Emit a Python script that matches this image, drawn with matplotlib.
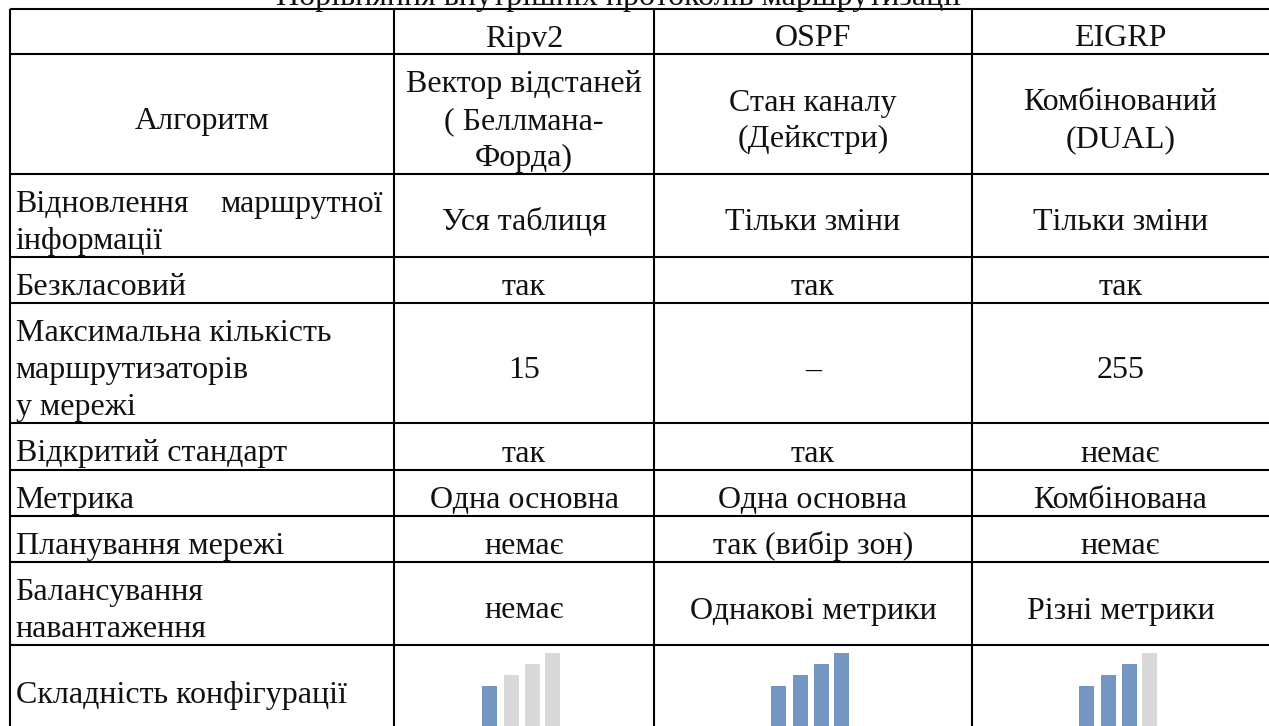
import matplotlib

matplotlib.use("Agg")
import matplotlib.pyplot as plt

WIDTH, HEIGHT = 1269, 726
FONT = "Liberation Serif"
FONT_SIZE = 23
LINE_STEP = 37
TEXT_COLOR = "#111111"
ON_COLOR = "#7596C2"
OFF_COLOR = "#D9D9D9"

title = "Порівняння внутрішніх протоколів маршрутизації"
protocols = ["Ripv2", "OSPF", "EIGRP"]
row_labels = [
    "",
    "Алгоритм",
    "Відновлення маршрутної\nінформації",
    "Безкласовий",
    "Максимальна кількість\nмаршрутизаторів\nу мережі",
    "Відкритий стандарт",
    "Метрика",
    "Планування мережі",
    "Балансування\nнавантаження",
    "Складність конфігурації",
]
ripv2 = ["Вектор відстаней\n( Беллмана-\nФорда)", "Уся таблиця", "так", "15", "так",
         "Одна основна", "немає", "немає"]
ospf = ["Стан каналу\n(Дейкстри)", "Тільки зміни", "так", "–", "так",
        "Одна основна", "так (вибір зон)", "Однакові метрики"]
eigrp = ["Комбінований\n(DUAL)", "Тільки зміни", "так", "255", "немає",
         "Комбінована", "немає", "Різні метрики"]

# complexity icon: four bars, the first few lit
icon_heights = [40, 51, 62, 73]
icon_lit = [1, 4, 3]

row_lines = [9, 54, 174, 257, 303, 423, 470, 516, 562, 645, 726]
col_lines = [10, 394, 654, 972, 1269]
icon_lefts = [
    [482, 504, 525, 545],
    [771, 793, 814, 834],
    [1079, 1101, 1122, 1142],
]

fig = plt.figure(figsize=(WIDTH / 100, HEIGHT / 100), dpi=100)
ax = fig.add_axes([0, 0, 1, 1])
ax.set_xlim(0, WIDTH)
ax.set_ylim(HEIGHT, 0)
ax.axis("off")


def put(x, y, text, ha="center"):
    ax.text(x, y, text, family=FONT, fontsize=FONT_SIZE, color=TEXT_COLOR, ha=ha, va="baseline")


def put_lines(x, row, text, ha="center", shift=15):
    # baselines sit a fixed step apart, the block centred on the row
    yc = (row_lines[row] + row_lines[row + 1]) / 2
    lines = text.split("\n")
    for i, line in enumerate(lines):
        put(x, yc + shift + (i - (len(lines) - 1) / 2) * LINE_STEP, line, ha=ha)


for y in row_lines[:-1]:
    ax.plot([col_lines[0], WIDTH], [y, y], color="black", lw=1.5, solid_capstyle="butt")
for x in col_lines[:-1]:
    ax.plot([x, x], [row_lines[0], HEIGHT], color="black", lw=1.5, solid_capstyle="butt")

put(619, 5, title)

centers = [(a + b) / 2 for a, b in zip(col_lines[1:], col_lines[2:])]
for cx, name in zip(centers, protocols):
    put_lines(cx, 0, name)

for i, label in enumerate(row_labels):
    if i == 1:
        put_lines((col_lines[0] + col_lines[1]) / 2, i, label)
    elif i == 2:
        # first line is justified to the cell width in the original
        first, second = label.split("\n")
        left, right = first.split(" ")
        put(15.5, 212, left, ha="left")
        put(383, 212, right, ha="right")
        put(15.5, 249, second, ha="left")
    elif i == len(row_labels) - 1:
        put_lines(15.5, i, label, ha="left", shift=18)
    elif label:
        put_lines(15.5, i, label, ha="left")

for cx, column in zip(centers, [ripv2, ospf, eigrp]):
    for i, value in enumerate(column):
        put_lines(cx, i + 1, value)

for lefts, lit in zip(icon_lefts, icon_lit):
    colors = [ON_COLOR if j < lit else OFF_COLOR for j in range(len(icon_heights))]
    ax.bar(lefts, icon_heights, width=15, bottom=[HEIGHT - h for h in icon_heights],
           align="edge", color=colors, linewidth=0)

fig.savefig("out.png", dpi=100, facecolor="white")
plt.close(fig)
